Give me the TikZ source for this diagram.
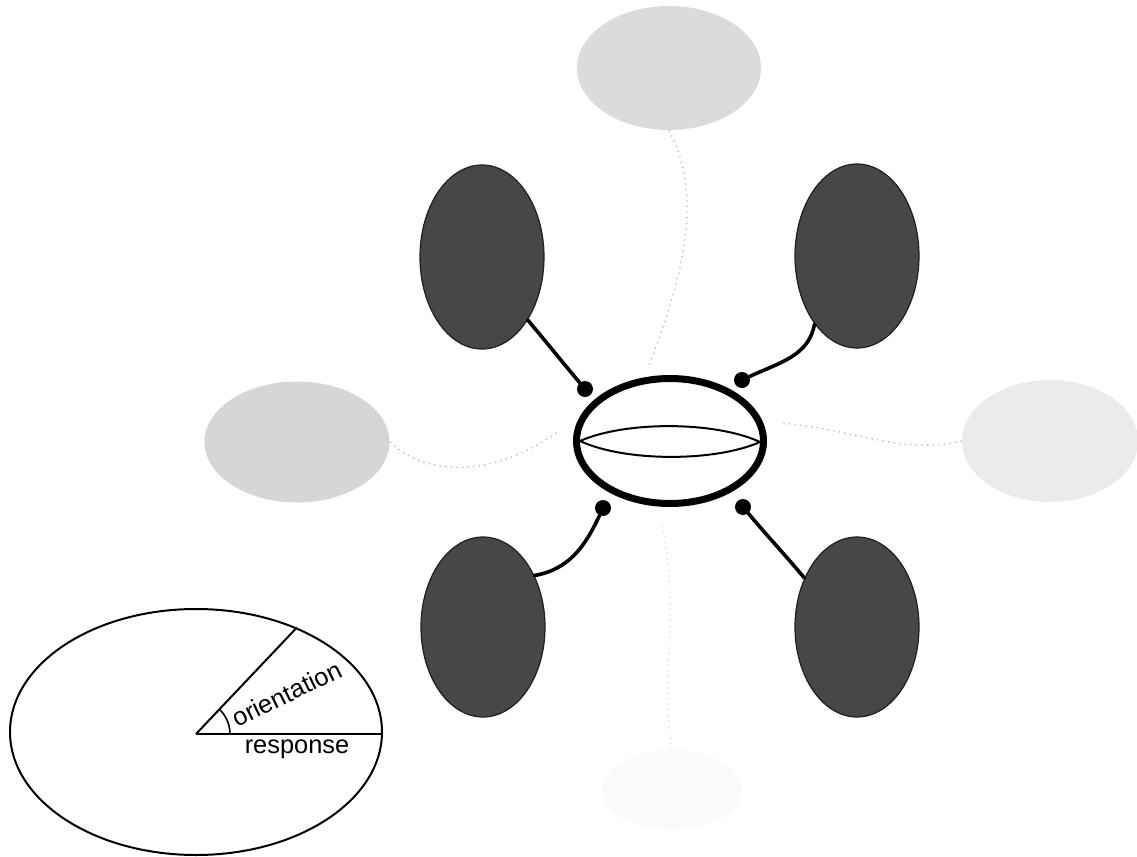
\documentclass[tikz,border=0pt]{standalone}
\usepackage{fontspec}
\newfontfamily\hv{Liberation Sans}
\usetikzlibrary{shapes.geometric}
\begin{document}
\begin{tikzpicture}[x=0.5pt,y=-0.5pt,
  dark/.style={ellipse, inner sep=0, minimum width=62pt, minimum height=91pt, fill=black!72, draw=black!88, line width=0.6pt},
  faint/.style={ellipse, inner sep=0, fill=#1},
  dotnode/.style={circle, fill=black, inner sep=0, minimum size=8pt},
  stalk/.style={line width=1.8pt, black, line cap=round},
  ghost/.style={draw=black!28, line width=0.7pt, dash pattern=on 0.6pt off 2.2pt},
  lbl/.style={font=\hv\fontsize{12.7}{15}\selectfont, inner sep=0}
]
\useasboundingbox (0,0) rectangle (1137,857);

% faint ellipses
\node[faint=black!14, minimum width=92pt, minimum height=62pt] (ft) at (669,68) {};
\node[faint=black!16, minimum width=92.5pt, minimum height=60.5pt] (fl) at (297,442) {};
\node[faint=black!8, minimum width=88pt, minimum height=61pt] (fr) at (1050,441) {};
\node[faint=black!2, minimum width=70pt, minimum height=40pt] (fb) at (672,790) {};

% faint connectors
\coordinate (gt) at (648,368);
\coordinate (gl) at (560,430);
\coordinate (gr) at (780,423);
\coordinate (gb) at (662,525);
\draw[ghost] (ft.south) .. controls (700,190) and (690,260) .. (gt);
\draw[ghost] (fl.east) .. controls (430,480) and (500,475) .. (gl);
\draw[ghost] (fr.west) .. controls (900,455) and (860,430) .. (gr);
\draw[ghost, draw=black!14] (fb.north) .. controls (660,690) and (680,600) .. (gb);

% central ellipse
\node[ellipse, draw, line width=3.5pt, inner sep=0, minimum width=93.5pt, minimum height=62.5pt] (c) at (670,441) {};
\coordinate (lensL) at (580,441);
\coordinate (lensR) at (760,442);
\draw[line width=1pt] (lensL) .. controls (625,421) and (715,421) .. (lensR);
\draw[line width=1pt] (lensL) .. controls (625,462) and (715,462) .. (lensR);

% dark ellipses
\node[dark, minimum height=92pt] (tl) at (482,257) {};
\node[dark, minimum height=92pt] (tr) at (857,256) {};
\node[dark, minimum height=90pt] (bl) at (483,627) {};
\node[dark, minimum height=90pt] (br) at (857,627) {};

% dots
\node[dotnode] (dtl) at (585,389) {};
\node[dotnode] (dtr) at (742,380) {};
\node[dotnode] (dbl) at (603,508) {};
\node[dotnode] (dbr) at (743,507) {};

% stalks
\draw[stalk] (tl.-54) to[out=-50,in=130] (dtl);
\draw[stalk] (tr.-122) to[out=-100,in=25] (dtr);
\draw[stalk] (bl.45) to[out=10,in=-115] (dbl);
\draw[stalk] (dbr) to[out=-50,in=130] (br.137);

% legend
\node[ellipse, draw, line width=1pt, inner sep=0, minimum width=186pt, minimum height=123pt] (lg) at (196,732) {};
\coordinate (apex) at (196,734);
\coordinate (re) at (381,734);
\draw[line width=1pt] (apex) -- (re);
\draw[line width=1pt] (apex) -- (lg.46);
\draw[line width=0.8pt] ([shift={(34,0)}]apex) arc[start angle=0, end angle=-46, radius=34];
\node[lbl, anchor=base west, rotate=26] (ori) at (237,728) {orientation};
\node[lbl, anchor=base] (resp) at (297,753) {response};
\end{tikzpicture}
\end{document}
